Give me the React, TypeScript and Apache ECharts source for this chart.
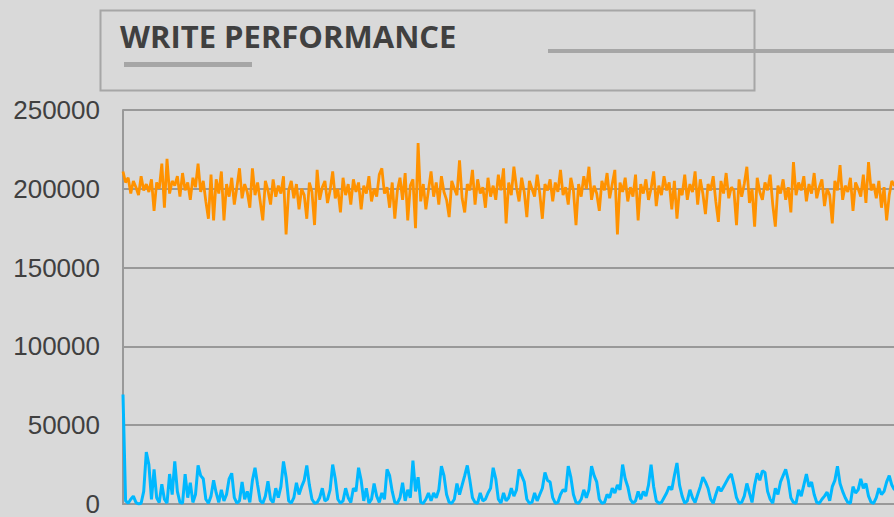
import React, { useEffect, useRef } from "react";
import * as echarts from "echarts";

const TITLE = "WRITE PERFORMANCE";
const yTicks = [0, 50000, 100000, 150000, 200000, 250000];

const orangeSeries = [
  211000, 204000, 207000, 197000, 205000, 201000, 196000, 208000, 199000, 203000,
  198000, 206000, 186000, 204000, 200000, 216000, 188000, 219000, 197000, 205000,
  202000, 208000, 195000, 210000, 199000, 204000, 193000, 207000, 201000, 216000,
  198000, 205000, 192000, 181000, 209000, 180000, 206000, 197000, 211000, 180000,
  203000, 195000, 207000, 190000, 201000, 213000, 194000, 203000, 198000, 188000,
  213000, 196000, 204000, 192000, 180000, 205000, 199000, 190000, 206000, 195000,
  202000, 197000, 208000, 171000, 199000, 205000, 194000, 203000, 187000, 200000,
  196000, 181000, 204000, 198000, 177000, 212000, 193000, 201000, 205000, 191000,
  199000, 211000, 194000, 200000, 185000, 207000, 196000, 203000, 190000, 206000,
  198000, 204000, 187000, 202000, 197000, 208000, 192000, 200000, 195000, 209000,
  213000, 197000, 201000, 188000, 204000, 181000, 199000, 207000, 193000, 210000,
  180000, 202000, 206000, 175000, 229000, 192000, 203000, 187000, 199000, 211000,
  195000, 204000, 190000, 208000, 198000, 193000, 182000, 205000, 200000, 196000,
  218000, 194000, 185000, 203000, 199000, 212000, 190000, 206000, 197000, 201000,
  188000, 207000, 195000, 202000, 193000, 209000, 199000, 213000, 178000, 204000,
  196000, 214000, 201000, 192000, 207000, 198000, 182000, 205000, 200000, 195000,
  209000, 197000, 181000, 203000, 199000, 206000, 192000, 204000, 198000, 212000,
  196000, 201000, 190000, 207000, 199000, 177000, 203000, 195000, 208000, 200000,
  214000, 193000, 202000, 197000, 186000, 205000, 199000, 210000, 194000, 203000,
  212000, 171000, 204000, 198000, 207000, 192000, 201000, 195000, 209000, 180000,
  203000, 197000, 206000, 193000, 200000, 211000, 189000, 202000, 196000, 208000,
  199000, 204000, 187000, 205000, 181000, 200000, 196000, 209000, 193000, 203000,
  198000, 211000, 190000, 206000, 197000, 184000, 203000, 199000, 208000, 192000,
  179000, 205000, 197000, 210000, 194000, 201000, 199000, 177000, 206000, 195000,
  203000, 214000, 191000, 200000, 176000, 207000, 198000, 193000, 204000, 199000,
  209000, 190000, 176000, 202000, 197000, 206000, 193000, 201000, 185000, 217000,
  196000, 204000, 199000, 208000, 192000, 203000, 197000, 210000, 194000, 201000,
  206000, 189000, 200000, 196000, 178000, 205000, 199000, 215000, 193000, 202000,
  198000, 207000, 186000, 204000, 200000, 195000, 209000, 191000, 217000, 199000,
  203000, 194000, 205000, 188000, 201000, 180000, 196000, 205000, 202000, 204000,
];

const blueSeries = [
  69500, 2000, 500, 3000, 5000, 1000, 0, 500, 8000, 33000,
  25000, 3000, 22000, 4000, 1000, 12500, 3000, 500, 19000, 6000,
  27000, 8000, 1000, 500, 19000, 4000, 13500, 1000, 6000, 24500,
  18000, 16000, 3000, 500, 5000, 15000, 7000, 1000, 9000, 2000,
  6000, 16000, 19500, 4000, 500, 2000, 14000, 3000, 8000, 1000,
  15000, 23000, 12000, 2000, 500, 5000, 14500, 3000, 1000, 10000,
  4000, 11000, 27000, 17000, 2000, 500, 4000, 13500, 6000, 11000,
  15000, 24500, 12000, 3000, 500, 1000, 4000, 10000, 2000, 3000,
  9000, 25000, 16000, 3000, 500, 2000, 10000, 4000, 1000, 10000,
  8000, 23000, 15000, 2000, 10000, 500, 3000, 13000, 5000, 1000,
  7000, 3000, 22000, 18000, 8000, 1000, 500, 4000, 13500, 2000,
  9000, 4000, 27500, 8000, 17000, 1000, 500, 3000, 7000, 2000,
  7000, 4000, 9000, 24000, 18000, 6000, 1000, 500, 3000, 13000,
  6000, 12000, 18000, 24500, 15000, 4000, 1000, 500, 7000, 2000,
  3000, 7000, 10000, 23000, 16000, 3000, 500, 7000, 2000, 4000,
  10000, 5000, 9000, 22000, 18000, 14000, 3000, 500, 1000, 7000,
  2000, 6000, 10000, 20000, 15000, 14000, 4000, 500, 1000, 6000,
  9000, 8000, 24000, 17000, 6000, 1000, 500, 3000, 9000, 4000,
  9000, 24000, 18000, 14000, 3000, 500, 1000, 6000, 4000, 10000,
  7000, 12000, 9000, 25000, 16000, 11000, 3000, 500, 2000, 8000,
  3000, 8000, 5000, 12000, 25000, 11000, 2000, 500, 1000, 4000,
  7000, 11000, 9000, 18000, 26000, 12000, 5000, 500, 2000, 9000,
  4000, 1000, 6000, 11000, 17000, 14000, 10000, 3000, 500, 6000,
  11000, 8000, 11000, 14000, 17000, 19000, 12000, 4000, 500, 1000,
  5000, 13000, 7000, 1000, 12000, 19500, 15000, 21000, 20000, 8000,
  3000, 500, 10000, 6000, 14000, 18000, 22000, 15000, 4000, 1000,
  500, 9000, 5000, 12000, 19000, 11000, 14000, 6000, 1000, 500,
  3000, 5000, 7500, 2000, 11000, 15000, 24000, 13000, 8000, 4000,
  1000, 500, 11000, 7000, 9000, 16000, 10000, 13000, 5000, 1000,
  500, 4000, 10000, 6000, 8000, 14000, 18000, 12000, 9000, 15000,
];

const categories = orangeSeries.map((_, i) => String(i + 1));

export default function App() {
  const ref = useRef<HTMLDivElement>(null);
  useEffect(() => {
    if (!ref.current) return;
    const chart = echarts.init(ref.current, null, { renderer: "svg" });
    const gray = "#a6a6a6";
    chart.setOption({
      animation: false,
      backgroundColor: "#d9d9d9",
      grid: { left: 123, right: 13, top: 110, bottom: 9 },
      xAxis: {
        type: "category",
        data: categories,
        boundaryGap: false,
        axisLine: { show: true, lineStyle: { color: "#999999", width: 2 } },
        axisTick: { show: false },
        axisLabel: { show: false },
        splitLine: { show: false },
      },
      yAxis: {
        type: "value",
        min: yTicks[0],
        max: yTicks[yTicks.length - 1],
        interval: 50000,
        axisLine: { show: true, lineStyle: { color: "#999999", width: 2 } },
        axisTick: { show: false },
        axisLabel: {
          color: "#404040",
          fontSize: 26,
          fontFamily: "Liberation Sans, Arial, sans-serif",
          margin: 23,
          formatter: (v: number) => String(v),
        },
        splitLine: { show: true, lineStyle: { color: "#999999", width: 2 } },
      },
      series: [
        {
          name: "Blue",
          type: "line",
          data: blueSeries,
          showSymbol: false,
          lineStyle: { color: "#00b8ff", width: 3 },
          itemStyle: { color: "#00b8ff" },
        },
        {
          name: "Orange",
          type: "line",
          data: orangeSeries,
          showSymbol: false,
          lineStyle: { color: "#ff9200", width: 2.8 },
          itemStyle: { color: "#ff9200" },
        },
      ],
      graphic: [
        {
          type: "rect",
          shape: { x: 100.5, y: 10.5, width: 654, height: 80 },
          style: { fill: "none", stroke: gray, lineWidth: 2 },
        },
        {
          type: "text",
          x: 120,
          y: 20,
          style: {
            text: TITLE,
            fill: "#404040",
            font: "bold 31px 'Open Sans', sans-serif",
          },
        },
        {
          type: "rect",
          shape: { x: 124, y: 62, width: 128, height: 5 },
          style: { fill: gray },
        },
        {
          type: "rect",
          shape: { x: 548, y: 49, width: 360, height: 4 },
          style: { fill: gray },
        },
      ],
    });
    return () => chart.dispose();
  }, []);
  return (
    <div
      style={{
        position: "fixed",
        left: 0,
        top: 0,
        width: 894,
        height: 517,
        overflow: "hidden",
        background: "#d9d9d9",
      }}
    >
      <div ref={ref} style={{ width: 910, height: 517 }} />
    </div>
  );
}
